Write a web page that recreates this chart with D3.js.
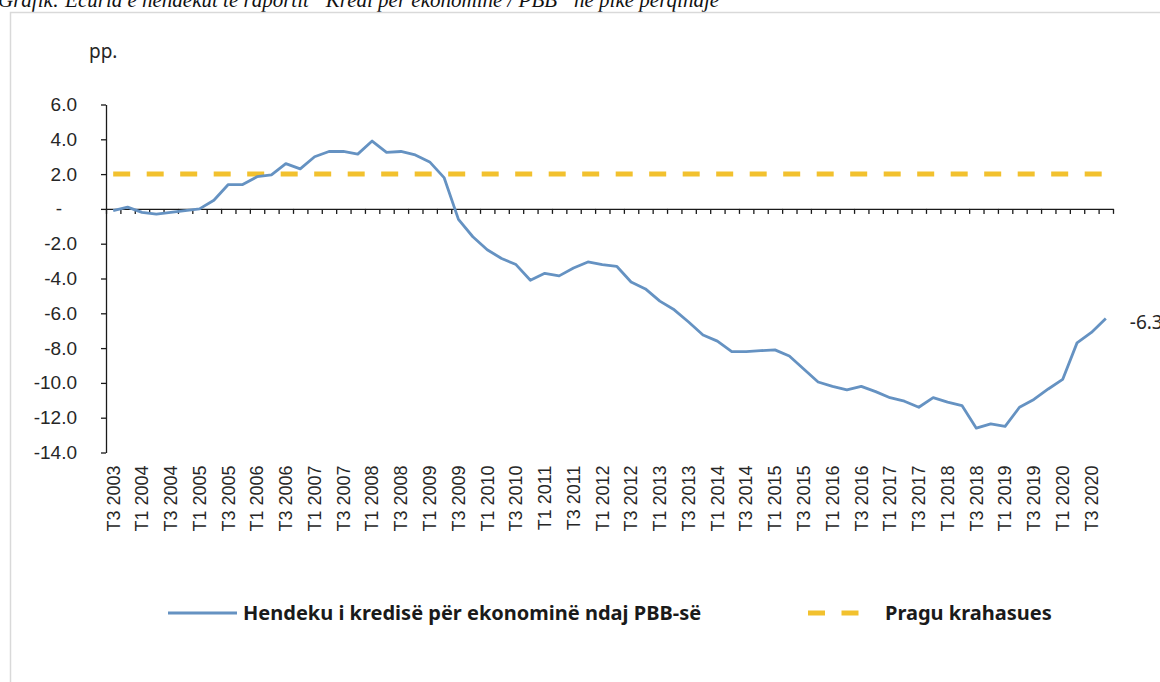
<!DOCTYPE html>
<html lang="sq">
<head>
    <meta charset="UTF-8">
    <title>Hendeku i kredisë</title>
    <script src="https://d3js.org/d3.v7.min.js"></script>
    <style>
        body {
            margin: 0;
            padding: 0;
            background: #ffffff;
            overflow: hidden;
        }
        svg {
            display: block;
            font-family: 'Noto Sans', 'Open Sans', sans-serif;
        }
        .axis path,
        .axis line {
            stroke: #1a1a1a;
            stroke-width: 1.3px;
        }
        .axis text {
            fill: #262626;
            font-size: 18px;
        }
        .y-axis text {
            font-size: 19px;
        }
        .legend text {
            fill: #1a1a1a;
            font-size: 20px;
            font-weight: bold;
        }
    </style>
</head>
<body>
    <svg id="chart"></svg>

    <script>
        // kategoritë (tremujorët)
        const quarters = [
            "T3 2003", "T4 2003",
            "T1 2004", "T2 2004", "T3 2004", "T4 2004",
            "T1 2005", "T2 2005", "T3 2005", "T4 2005",
            "T1 2006", "T2 2006", "T3 2006", "T4 2006",
            "T1 2007", "T2 2007", "T3 2007", "T4 2007",
            "T1 2008", "T2 2008", "T3 2008", "T4 2008",
            "T1 2009", "T2 2009", "T3 2009", "T4 2009",
            "T1 2010", "T2 2010", "T3 2010", "T4 2010",
            "T1 2011", "T2 2011", "T3 2011", "T4 2011",
            "T1 2012", "T2 2012", "T3 2012", "T4 2012",
            "T1 2013", "T2 2013", "T3 2013", "T4 2013",
            "T1 2014", "T2 2014", "T3 2014", "T4 2014",
            "T1 2015", "T2 2015", "T3 2015", "T4 2015",
            "T1 2016", "T2 2016", "T3 2016", "T4 2016",
            "T1 2017", "T2 2017", "T3 2017", "T4 2017",
            "T1 2018", "T2 2018", "T3 2018", "T4 2018",
            "T1 2019", "T2 2019", "T3 2019", "T4 2019",
            "T1 2020", "T2 2020", "T3 2020", "T4 2020"
        ];

        // hendeku i kredisë për ekonominë ndaj PBB-së (pp.)
        const hendeku = [
            -0.1, 0.1,
            -0.2, -0.3, -0.2, -0.1,
            0.0, 0.5, 1.4, 1.4,
            1.85, 1.95, 2.6, 2.3,
            3.0, 3.3, 3.3, 3.15,
            3.9, 3.25, 3.3, 3.1,
            2.7, 1.8, -0.6, -1.6,
            -2.35, -2.85, -3.2, -4.1,
            -3.7, -3.85, -3.4, -3.05,
            -3.2, -3.3, -4.2, -4.6,
            -5.3, -5.8, -6.5, -7.25,
            -7.6, -8.2, -8.2, -8.15,
            -8.1, -8.45, -9.2, -9.95,
            -10.2, -10.4, -10.2, -10.5,
            -10.85, -11.05, -11.4, -10.85,
            -11.1, -11.3, -12.6, -12.35,
            -12.5, -11.4, -10.95, -10.35,
            -9.8, -7.7, -7.1, -6.3
        ];

        // pragu krahasues
        const pragu = 2.0;

        const yTicks = [6, 4, 2, 0, -2, -4, -6, -8, -10, -12, -14];

        const titleText = "Grafik: Ecuria e hendekut të raportit \u201CKredi për ekonominë / PBB\u201D në pikë përqindje";
        const seriesName = "Hendeku i kredisë për ekonominë ndaj PBB-së";
        const praguName = "Pragu krahasues";

        // dimensionet
        const W = 1160, H = 682;
        const margin = { top: 104.5, left: 106 };
        const width = 1007;
        const height = 348;

        const blue = "#6592c2";
        const gold = "#f2c12e";

        const root = d3.select("#chart")
            .attr("width", W)
            .attr("height", H);

        // titulli (i prerë në krye)
        root.append("text")
            .attr("x", -2)
            .attr("y", 7)
            .style("font-family", "'Liberation Serif', 'DejaVu Serif', serif")
            .style("font-style", "italic")
            .style("font-size", "21px")
            .style("fill", "#111")
            .text(titleText);

        // korniza e grafikut
        root.append("rect")
            .attr("x", 10.5)
            .attr("y", 12.5)
            .attr("width", 1200)
            .attr("height", 720)
            .attr("fill", "none")
            .attr("stroke", "#d9d9d9")
            .attr("stroke-width", 1.5);

        const svg = root.append("g")
            .attr("transform", `translate(${margin.left},${margin.top})`);

        // shkallët
        const xScale = d3.scaleBand().domain(quarters).range([0, width]).padding(0);
        const xEdge = d3.scaleLinear().domain([0, quarters.length]).range([0, width]);
        const yScale = d3.scaleLinear().domain([-14, 6]).range([height, 0]);
        const xc = d => xScale(d) + xScale.bandwidth() / 2;

        // boshti y
        const yAxis = svg.append("g")
            .attr("class", "axis y-axis")
            .call(d3.axisLeft(yScale)
                .tickValues(yTicks)
                .tickSize(5)
                .tickSizeOuter(0)
                .tickPadding(24)
                .tickFormat(d => d === 0 ? "-" : d.toFixed(1)));
        yAxis.selectAll("text")
            .filter(d => d === 0)
            .attr("dx", -15);

        // njësia
        svg.append("text")
            .attr("x", -17)
            .attr("y", -47)
            .style("font-size", "19px")
            .style("fill", "#262626")
            .text("pp.");

        // boshti x në zero
        svg.append("g")
            .attr("class", "axis x-axis")
            .attr("transform", `translate(0,${yScale(0)})`)
            .call(d3.axisBottom(xEdge)
                .tickValues(d3.range(quarters.length + 1))
                .tickSize(5)
                .tickSizeOuter(0)
                .tickFormat(""));

        // etiketat e kategorive poshtë
        const xLabels = svg.append("g")
            .attr("class", "axis x-labels")
            .attr("transform", `translate(0,${height})`)
            .call(d3.axisBottom(xScale)
                .tickValues(quarters.filter((d, i) => i % 2 === 0))
                .tickSize(0));
        xLabels.select(".domain").remove();
        xLabels.selectAll("text")
            .attr("transform", "rotate(-90)")
            .attr("x", -13)
            .attr("y", 0)
            .attr("dy", "0.35em")
            .style("text-anchor", "end");

        // pragu
        svg.append("line")
            .attr("x1", xc(quarters[0]))
            .attr("x2", xc(quarters[quarters.length - 1]))
            .attr("y1", yScale(pragu))
            .attr("y2", yScale(pragu))
            .attr("stroke", gold)
            .attr("stroke-width", 5)
            .attr("stroke-dasharray", "17,16.5");

        // seria
        const line = d3.line()
            .x((d, i) => xc(quarters[i]))
            .y(d => yScale(d));

        svg.append("path")
            .datum(hendeku)
            .attr("fill", "none")
            .attr("stroke", blue)
            .attr("stroke-width", 2.8)
            .attr("stroke-linejoin", "round")
            .attr("d", line);

        // etiketa e vlerës së fundit
        const last = hendeku[hendeku.length - 1];
        svg.append("text")
            .attr("x", xc(quarters[quarters.length - 1]) + 24)
            .attr("y", yScale(last) + 4)
            .attr("dy", "0.35em")
            .style("font-size", "19px")
            .style("fill", "#262626")
            .text(last.toFixed(1));

        // legjenda
        const legend = root.append("g").attr("class", "legend");

        legend.append("line")
            .attr("x1", 168).attr("x2", 237)
            .attr("y1", 613).attr("y2", 613)
            .attr("stroke", blue)
            .attr("stroke-width", 2.8);
        legend.append("text")
            .attr("x", 243).attr("y", 613)
            .attr("dy", "0.35em")
            .text(seriesName);

        legend.append("line")
            .attr("x1", 808).attr("x2", 864)
            .attr("y1", 613).attr("y2", 613)
            .attr("stroke", gold)
            .attr("stroke-width", 5)
            .attr("stroke-dasharray", "17,16.5");
        legend.append("text")
            .attr("x", 885).attr("y", 613)
            .attr("dy", "0.35em")
            .text(praguName);
    </script>
</body>
</html>
